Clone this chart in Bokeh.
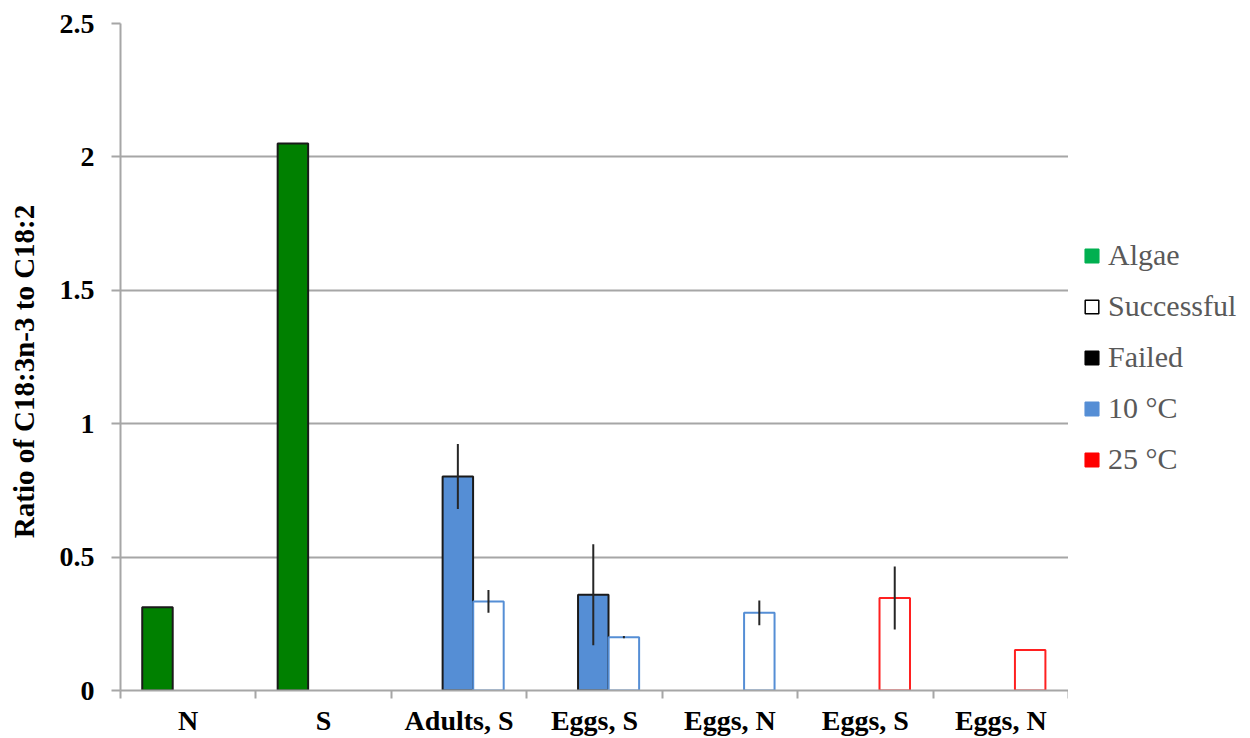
from bokeh.plotting import figure
from bokeh.layouts import row
from bokeh.models import Range1d, FixedTicker, Legend, LegendItem, ColumnDataSource
from bokeh.embed import file_html
from bokeh.resources import INLINE

# ---------------- data ----------------
categories = ["N", "S", "Adults, S", "Eggs, S", "Eggs, N", "Eggs, S", "Eggs, N"]
algae = [0.312, 2.05, None, None, None, None, None]
failed_10 = [None, None, 0.802, 0.359, None, None, None]
failed_10_err = [None, None, 0.122, 0.189, None, None, None]
successful_10 = [None, None, 0.334, 0.200, 0.291, None, None]
successful_10_err = [None, None, 0.043, 0.004, 0.046, None, None]
successful_25 = [None, None, None, None, None, 0.347, 0.152]
successful_25_err = [None, None, None, None, None, 0.118, None]
y_ticks = [0, 0.5, 1, 1.5, 2, 2.5]
y_tick_labels = ["0", "0.5", "1", "1.5", "2", "2.5"]
legend_labels = ["Algae", "Successful", "Failed", "10 °C", "25 °C"]

# ---------------- styles ----------------
SERIF = "Liberation Serif"
GRID = "#a6a6a6"
BAR_W = 0.225
OFF_ALGAE, OFF_FAILED, OFF_SUCC = -0.227, -0.009, 0.217
MAIN_W, LEG_W, H = 1068, 182, 738


def make_source(values, errs, offset):
    xs, tops, lo, hi = [], [], [], []
    for i, v in enumerate(values):
        if v is None:
            continue
        e = errs[i] if (errs is not None and errs[i] is not None) else 0.0
        xs.append(i + 0.5 + offset)
        tops.append(v)
        lo.append(v - e)
        hi.append(v + e)
    return ColumnDataSource(dict(x=xs, top=tops, lo=lo, hi=hi))


p = figure(width=MAIN_W, height=H, output_backend="svg", toolbar_location=None,
           x_range=Range1d(0, 7), y_range=Range1d(0, 2.5),
           min_border_left=120, min_border_top=23, min_border_bottom=48,
           min_border_right=0)
p.outline_line_color = None
p.background_fill_color = "white"

src_algae = make_source(algae, None, OFF_ALGAE)
src_f10 = make_source(failed_10, failed_10_err, OFF_FAILED)
src_s10 = make_source(successful_10, successful_10_err, OFF_SUCC)
src_s25 = make_source(successful_25, successful_25_err, OFF_SUCC)

p.vbar(x="x", top="top", width=BAR_W, bottom=0, source=src_algae,
       fill_color="#008000", line_color="#1a1a1a", line_width=2)
p.vbar(x="x", top="top", width=BAR_W, bottom=0, source=src_f10,
       fill_color="#558ed5", line_color="#1a1a1a", line_width=2)
p.vbar(x="x", top="top", width=BAR_W, bottom=0, source=src_s10,
       fill_color="white", line_color="#558ed5", line_width=2)
p.vbar(x="x", top="top", width=BAR_W, bottom=0, source=src_s25,
       fill_color="white", line_color="#ff2020", line_width=2)

for s in (src_f10, src_s10, src_s25):
    p.segment(x0="x", y0="lo", x1="x", y1="hi", source=s,
              line_color="#262626", line_width=2)

# axes
p.xgrid.visible = False
p.ygrid.grid_line_color = GRID
p.ygrid.grid_line_width = 2

p.yaxis.ticker = FixedTicker(ticks=y_ticks)
p.yaxis.major_label_overrides = dict(zip(y_ticks, y_tick_labels))
p.yaxis.axis_label = "Ratio of C18:3n-3 to C18:2\u00a0\u00a0\u00a0\u00a0"
p.yaxis.axis_label_text_font = SERIF
p.yaxis.axis_label_text_font_style = "bold"
p.yaxis.axis_label_text_font_size = "29px"
p.yaxis.axis_label_text_color = "black"
p.yaxis.axis_label_standoff = 17
p.yaxis.major_label_standoff = 17
p.yaxis.major_tick_out = 9
p.yaxis.major_tick_in = 0
p.yaxis.minor_tick_line_color = None

p.xaxis.ticker = FixedTicker(ticks=[i + 0.5 for i in range(len(categories))],
                             minor_ticks=list(range(len(categories) + 1)))
p.xaxis.major_label_overrides = {i + 0.5: c for i, c in enumerate(categories)}
p.xaxis.major_tick_out = 0
p.xaxis.major_tick_in = 0
p.xaxis.minor_tick_out = 8
p.xaxis.minor_tick_in = 0
p.xaxis.minor_tick_line_color = GRID
p.xaxis.minor_tick_line_width = 2
p.xaxis.major_label_standoff = 6

for ax in (p.xaxis, p.yaxis):
    ax.axis_line_color = GRID
    ax.axis_line_width = 2
    ax.major_tick_line_color = GRID
    ax.major_tick_line_width = 2
    ax.major_label_text_font = SERIF
    ax.major_label_text_font_style = "bold"
    ax.major_label_text_font_size = "28px"
    ax.major_label_text_color = "black"

# ---------------- legend panel (separate figure) ----------------
lg = figure(width=LEG_W, height=H, output_backend="svg", toolbar_location=None,
            x_range=Range1d(0, 1), y_range=Range1d(0, 1),
            min_border=0, x_axis_type=None, y_axis_type=None)
lg.outline_line_color = None
lg.xgrid.visible = False
lg.ygrid.visible = False

leg_styles = [
    dict(fill_color="#00b050", line_color="#00b050"),
    dict(fill_color="white", line_color="black"),
    dict(fill_color="black", line_color="black"),
    dict(fill_color="#558ed5", line_color="#558ed5"),
    dict(fill_color="#ff0000", line_color="#ff0000"),
]
items = []
for lab, st in zip(legend_labels, leg_styles):
    r = lg.vbar(x="x", top="top", width=0.1, bottom=0,
                source=ColumnDataSource(dict(x=[float("nan")], top=[float("nan")])),
                line_width=1.5, **st)
    items.append(LegendItem(label=lab, renderers=[r]))

legend = Legend(items=items, location=(15, 214),
                label_text_font=SERIF, label_text_font_size="30px",
                label_text_color="#595959", glyph_width=17, glyph_height=17,
                label_standoff=8, spacing=17, padding=0, margin=0,
                border_line_color=None, background_fill_alpha=0)
lg.add_layout(legend)

layout = row(p, lg, spacing=0)
open("out.html", "w").write(file_html(layout, INLINE))
